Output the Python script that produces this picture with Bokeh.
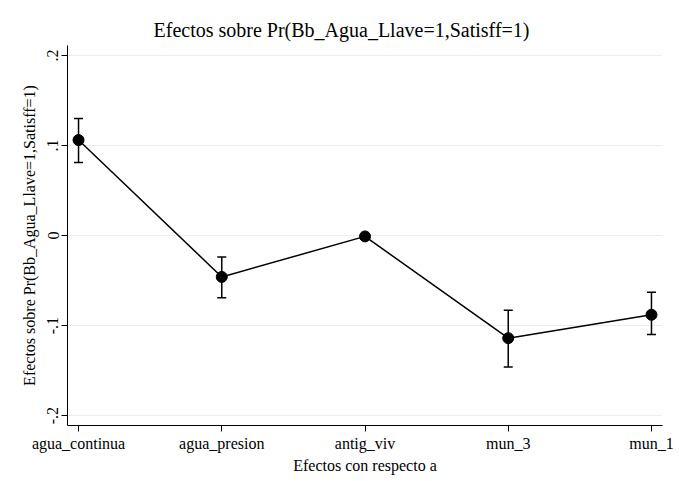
from bokeh.plotting import figure
from bokeh.models import FixedTicker, Whisker, ColumnDataSource, Range1d, TeeHead
from bokeh.embed import file_html
from bokeh.resources import INLINE

categories = ["agua_continua", "agua_presion", "antig_viv", "mun_3", "mun_1"]
effects = [0.106, -0.046, -0.001, -0.114, -0.088]
ci_low = [0.081, -0.069, -0.003, -0.146, -0.110]
ci_high = [0.130, -0.024, 0.001, -0.083, -0.063]
y_ticks = [-0.2, -0.1, 0.0, 0.1, 0.2]
y_tick_labels = ["-.2", "-.1", "0", ".1", ".2"]

xs = list(range(1, len(categories) + 1))
src = ColumnDataSource(dict(x=xs, y=effects, lo=ci_low, hi=ci_high))

FONT = "Liberation Serif"

p = figure(width=679, height=481,
           x_range=Range1d(0.923, 5.077), y_range=Range1d(-0.211, 0.211),
           output_backend="svg", toolbar_location=None,
           min_border_left=67, min_border_right=17,
           min_border_top=45, min_border_bottom=56)

p.title.text = "Efectos sobre Pr(Bb_Agua_Llave=1,Satisff=1)"
p.title.align = "left"
p.title.offset = 86
p.title.text_font = FONT
p.title.text_font_size = "20px"
p.title.text_font_style = "normal"
p.title.text_color = "black"

p.outline_line_color = None
p.background_fill_color = "white"
p.border_fill_color = "white"

# grid
p.xgrid.grid_line_color = None
p.ygrid.grid_line_color = "#e6eef1"
p.ygrid.grid_line_width = 1
p.ygrid.ticker = FixedTicker(ticks=y_ticks)

# y axis
p.yaxis.ticker = FixedTicker(ticks=y_ticks)
p.yaxis.major_label_overrides = {t: l for t, l in zip(y_ticks, y_tick_labels)}
p.yaxis.major_label_orientation = "vertical"
p.yaxis.minor_tick_line_color = None
p.yaxis.major_tick_in = 0
p.yaxis.major_tick_out = 6
p.yaxis.axis_label = "Efectos sobre Pr(Bb_Agua_Llave=1,Satisff=1)"

# x axis
p.xaxis.ticker = FixedTicker(ticks=xs)
p.xaxis.major_label_overrides = {x: c for x, c in zip(xs, categories)}
p.xaxis.minor_tick_line_color = None
p.xaxis.major_tick_in = 0
p.xaxis.major_tick_out = 6
p.xaxis.axis_label = "Efectos con respecto a"

for ax in (p.xaxis, p.yaxis):
    ax.axis_line_color = "black"
    ax.axis_line_width = 1
    ax.major_tick_line_color = "black"
    ax.major_label_text_font = FONT
    ax.major_label_text_font_size = "16px"
    ax.major_label_text_color = "black"
    ax.axis_label_text_font = FONT
    ax.axis_label_text_font_size = "16px"
    ax.axis_label_text_font_style = "normal"
    ax.axis_label_text_color = "black"
    ax.major_label_standoff = 3

p.xaxis.axis_label_standoff = 2
p.yaxis.axis_label_standoff = 7

whisk = Whisker(source=src, base="x", upper="hi", lower="lo",
                line_color="black", line_width=1.5,
                upper_head=TeeHead(size=9, line_color="black", line_width=1.5),
                lower_head=TeeHead(size=9, line_color="black", line_width=1.5))
p.add_layout(whisk)

p.line("x", "y", source=src, line_color="black", line_width=1.5)
p.scatter("x", "y", source=src, size=11, fill_color="black", line_color="black")

open("out.html", "w").write(file_html(p, INLINE))
